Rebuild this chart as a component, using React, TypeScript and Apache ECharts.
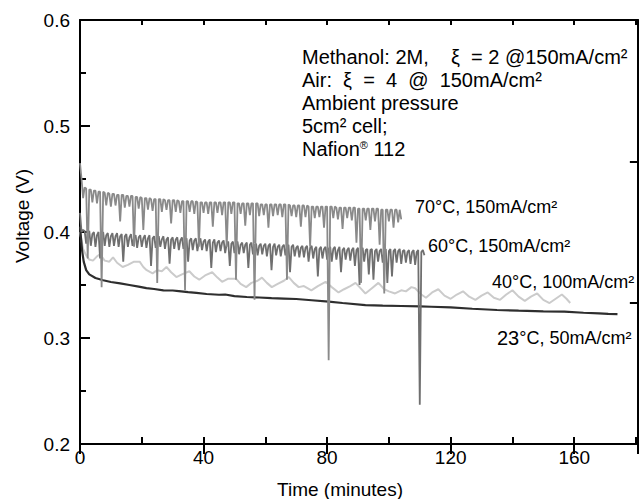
import React, { useEffect, useRef } from "react";
import * as echarts from "echarts";

// ---- Data ----
const X_LABELS = [0, 40, 80, 120, 160];

// 70°C, 150 mA/cm² : voltage sampled every 0.5 min from t = 0
const STEP_70 = 0.5;
const V70 = [
  0.465, 0.450, 0.432, 0.442, 0.441, 0.375, 0.440, 0.440, 0.428, 0.439, 0.439, 0.427, 0.438, 0.438, 0.348, 0.438, 0.437, 0.425, 0.437, 0.436,
  0.424, 0.436, 0.436, 0.425, 0.435, 0.435, 0.410, 0.435, 0.435, 0.423, 0.434, 0.434, 0.424, 0.434, 0.434, 0.386, 0.433, 0.433, 0.422, 0.433,
  0.432, 0.402, 0.432, 0.432, 0.421, 0.432, 0.431, 0.420, 0.431, 0.431, 0.352, 0.431, 0.431, 0.419, 0.431, 0.430, 0.421, 0.430, 0.430, 0.408,
  0.430, 0.430, 0.419, 0.430, 0.429, 0.418, 0.429, 0.429, 0.345, 0.429, 0.429, 0.419, 0.429, 0.429, 0.417, 0.429, 0.428, 0.386, 0.428, 0.428,
  0.418, 0.428, 0.428, 0.417, 0.428, 0.428, 0.405, 0.428, 0.428, 0.418, 0.428, 0.428, 0.416, 0.428, 0.428, 0.386, 0.428, 0.428, 0.417, 0.428,
  0.428, 0.355, 0.427, 0.427, 0.417, 0.427, 0.427, 0.406, 0.427, 0.427, 0.416, 0.427, 0.427, 0.336, 0.427, 0.427, 0.415, 0.426, 0.426, 0.416,
  0.426, 0.426, 0.404, 0.426, 0.426, 0.415, 0.426, 0.426, 0.416, 0.426, 0.426, 0.414, 0.426, 0.426, 0.355, 0.426, 0.425, 0.415, 0.425, 0.425,
  0.414, 0.425, 0.425, 0.405, 0.425, 0.425, 0.414, 0.425, 0.424, 0.386, 0.424, 0.424, 0.413, 0.424, 0.424, 0.414, 0.424, 0.424, 0.404, 0.424,
  0.424, 0.279, 0.424, 0.424, 0.413, 0.424, 0.423, 0.412, 0.423, 0.423, 0.403, 0.423, 0.423, 0.413, 0.423, 0.423, 0.411, 0.423, 0.423, 0.390,
  0.422, 0.422, 0.352, 0.422, 0.422, 0.411, 0.422, 0.422, 0.402, 0.422, 0.422, 0.410, 0.422, 0.422, 0.388, 0.421, 0.421, 0.342, 0.421, 0.421,
  0.410, 0.421, 0.421, 0.404, 0.421, 0.421, 0.409, 0.421, 0.412,
];

// 60°C, 150 mA/cm² : voltage sampled every 0.5 min from t = 0
const STEP_60 = 0.5;
const V60 = [
  0.418, 0.400, 0.402, 0.401, 0.389, 0.398, 0.401, 0.387, 0.398, 0.400, 0.386, 0.397, 0.400, 0.375, 0.398, 0.400, 0.387, 0.397, 0.399, 0.386,
  0.396, 0.399, 0.387, 0.396, 0.399, 0.386, 0.396, 0.398, 0.372, 0.396, 0.398, 0.386, 0.395, 0.398, 0.387, 0.395, 0.397, 0.385, 0.395, 0.397,
  0.386, 0.394, 0.397, 0.385, 0.394, 0.397, 0.368, 0.394, 0.396, 0.385, 0.394, 0.396, 0.386, 0.393, 0.396, 0.384, 0.393, 0.395, 0.370, 0.393,
  0.395, 0.384, 0.393, 0.395, 0.383, 0.392, 0.395, 0.384, 0.392, 0.394, 0.372, 0.392, 0.394, 0.383, 0.392, 0.394, 0.382, 0.391, 0.394, 0.383,
  0.391, 0.393, 0.382, 0.391, 0.393, 0.366, 0.390, 0.393, 0.381, 0.390, 0.392, 0.382, 0.390, 0.392, 0.380, 0.389, 0.391, 0.368, 0.389, 0.391,
  0.380, 0.389, 0.391, 0.379, 0.388, 0.390, 0.380, 0.388, 0.390, 0.366, 0.388, 0.390, 0.379, 0.387, 0.389, 0.378, 0.387, 0.389, 0.379, 0.387,
  0.389, 0.377, 0.387, 0.389, 0.364, 0.386, 0.389, 0.378, 0.386, 0.388, 0.377, 0.386, 0.388, 0.378, 0.386, 0.388, 0.362, 0.386, 0.388, 0.377,
  0.385, 0.387, 0.376, 0.385, 0.387, 0.376, 0.385, 0.387, 0.372, 0.385, 0.387, 0.375, 0.384, 0.386, 0.358, 0.384, 0.386, 0.375, 0.384, 0.386,
  0.374, 0.384, 0.386, 0.372, 0.384, 0.386, 0.374, 0.383, 0.386, 0.362, 0.383, 0.385, 0.374, 0.383, 0.385, 0.373, 0.383, 0.385, 0.368, 0.383,
  0.385, 0.350, 0.383, 0.385, 0.372, 0.383, 0.384, 0.360, 0.383, 0.384, 0.355, 0.382, 0.384, 0.372, 0.382, 0.384, 0.371, 0.382, 0.384, 0.352,
  0.382, 0.384, 0.358, 0.382, 0.384, 0.371, 0.382, 0.384, 0.370, 0.382, 0.383, 0.371, 0.381, 0.383, 0.370, 0.381, 0.383, 0.369, 0.381, 0.383,
  0.237, 0.381, 0.383, 0.378,
];

// 40°C, 100 mA/cm² : [time (min), voltage]
const S40 = [
  [0, 0.400], [0.5, 0.392], [1, 0.384], [2, 0.378], [3, 0.374], [4.2, 0.373], [5.5, 0.377], [6.5, 0.379], [8, 0.373], [9.5, 0.372],
  [10.7, 0.376], [12, 0.371], [13.8, 0.367], [15.5, 0.369], [17.5, 0.372], [19.3, 0.372], [20.5, 0.367], [21.6, 0.364], [23.5, 0.361],
  [25, 0.364], [26.5, 0.363], [28, 0.367], [29.5, 0.362], [31.2, 0.3575], [33, 0.360], [35.4, 0.363], [37, 0.358], [38.6, 0.355],
  [40.5, 0.359], [42.8, 0.362], [44.5, 0.357], [46, 0.353], [48, 0.356], [50.5, 0.356], [52, 0.351], [53.8, 0.348], [55.5, 0.352],
  [57.5, 0.354], [58.9, 0.357], [60.5, 0.352], [62.1, 0.348], [64, 0.351], [66, 0.354], [67.6, 0.3575], [69.2, 0.352], [70.8, 0.348],
  [72.5, 0.349], [74.9, 0.345], [77, 0.349], [79.5, 0.353], [81.5, 0.348], [83.7, 0.343], [85.5, 0.346], [87.5, 0.349], [89.2, 0.352],
  [90.8, 0.347], [92.4, 0.342], [94.5, 0.347], [96.6, 0.352], [98.5, 0.346], [100, 0.344], [102, 0.342], [104, 0.345], [105.5, 0.344],
  [107.3, 0.348], [108.5, 0.347], [110.5, 0.341], [112, 0.338], [114, 0.343], [116, 0.346], [118, 0.340], [120, 0.337], [122, 0.341],
  [124, 0.344], [126, 0.339], [128, 0.336], [130, 0.340], [132, 0.343], [134, 0.338], [136, 0.336], [138, 0.341], [140, 0.345],
  [142, 0.339], [144, 0.335], [146, 0.339], [148, 0.342], [150, 0.336], [152, 0.333], [154, 0.337], [156, 0.341], [157.5, 0.337],
  [158.7, 0.333],
];

// 23°C, 50 mA/cm² : [time (min), voltage]
const S23 = [
  [0, 0.405], [0.3, 0.395], [0.7, 0.382], [1.2, 0.372], [2, 0.364], [3, 0.360], [5, 0.3566], [7.5, 0.3545], [10, 0.3528],
  [13, 0.3515], [16, 0.350], [19, 0.3485], [21.5, 0.347], [24, 0.3462], [27, 0.345], [30, 0.3448], [32, 0.3443], [35, 0.3432],
  [37.7, 0.3425], [41, 0.3415], [45, 0.3408], [47, 0.3410], [50, 0.3395], [54, 0.3387], [58, 0.3382], [62, 0.3376], [66, 0.3372],
  [70, 0.3368], [75, 0.3356], [80.5, 0.3343], [85, 0.3330], [92.4, 0.3311], [98, 0.3306], [104, 0.3302], [110, 0.3298],
  [113.7, 0.3295], [120, 0.3288], [127, 0.3276], [135, 0.3264], [142, 0.3258], [150, 0.3252], [156.8, 0.3248], [163, 0.3238],
  [168, 0.3233], [171, 0.3228], [174, 0.3226],
];

const SERIES_NAMES = ["70°C, 150mA/cm²", "60°C, 150mA/cm²", "40°C, 100mA/cm²", "23°C, 50mA/cm²"];
const NOTE_LINES = [
  "Methanol: 2M,    ξ  = 2 @150mA/cm²",
  "Air:  ξ  =  4  @  150mA/cm²",
  "Ambient pressure",
  "5cm² cell;",
  "{a|Nafion}{sup|®}{a| 112}",
];

const FONT = "'Liberation Sans', Arial, Helvetica, sans-serif";

export default function App() {
  const ref = useRef<HTMLDivElement>(null);

  useEffect(() => {
    if (!ref.current) return;
    const chart = echarts.init(ref.current, null, { renderer: "svg" });
    const black = "#000";
    const d70 = V70.map((v, i) => [i * STEP_70, v]);
    const d60 = V60.map((v, i) => [i * STEP_60, v]);

    const txt = (size: number) => ({ fill: "#000", fontSize: size, fontFamily: FONT });
    const XMAX = 180.6;

    const option: any = {
      animation: false,
      backgroundColor: "#fff",
      grid: { left: 80, top: 20, width: 562, height: 424, containLabel: false },
      xAxis: [
        {
          type: "value", position: "bottom", min: 0, max: XMAX, interval: 20,
          axisLine: { show: true, onZero: false, lineStyle: { color: black, width: 2 } },
          axisTick: { show: true, inside: true, length: 7, lineStyle: { color: black, width: 2 } },
          axisLabel: {
            formatter: (v: number) => (X_LABELS.includes(v) ? String(v) : ""),
            color: black, fontSize: 19, fontFamily: FONT, margin: 4, showMaxLabel: false,
          },
          splitLine: { show: false },
        },
        {
          type: "value", position: "top", min: 0, max: XMAX, interval: 20,
          axisLine: { show: true, onZero: false, lineStyle: { color: black, width: 2 } },
          axisTick: { show: true, inside: true, length: 5, lineStyle: { color: black, width: 2 } },
          axisLabel: { show: false }, splitLine: { show: false },
        },
        {
          type: "value", position: "top", min: 0, max: XMAX, interval: 40,
          axisLine: { show: false },
          axisTick: { show: true, inside: true, length: 10, lineStyle: { color: black, width: 2 } },
          axisLabel: { show: false }, splitLine: { show: false },
        },
      ],
      yAxis: [
        {
          type: "value", position: "left", min: 0.2, max: 0.6, interval: 0.1,
          axisLine: { show: true, onZero: false, lineStyle: { color: black, width: 2 } },
          axisTick: { show: true, inside: true, length: 10, lineStyle: { color: black, width: 2 } },
          minorTick: { show: true, splitNumber: 2, length: 6, lineStyle: { color: black, width: 2 } },
          axisLabel: { formatter: (v: number) => v.toFixed(1), color: black, fontSize: 19, fontFamily: FONT, margin: 10 },
          splitLine: { show: false }, minorSplitLine: { show: false },
        },
        {
          type: "value", position: "right", min: 0, max: 3, interval: 1,
          axisLine: { show: true, onZero: false, lineStyle: { color: black, width: 2 } },
          axisTick: { show: true, inside: true, length: 8, lineStyle: { color: black, width: 2 } },
          axisLabel: { show: false }, splitLine: { show: false },
        },
      ],
      series: [
        { name: SERIES_NAMES[2], type: "line", data: S40, showSymbol: false, symbol: "none",
          lineStyle: { color: "#cbcbcb", width: 2 }, z: 2 },
        { name: SERIES_NAMES[3], type: "line", data: S23, showSymbol: false, symbol: "none",
          lineStyle: { color: "#2e2e2e", width: 2.2 }, z: 3 },
        { name: SERIES_NAMES[1], type: "line", data: d60, showSymbol: false, symbol: "none",
          lineStyle: { color: "#6f6f6f", width: 1.8 }, z: 4 },
        { name: SERIES_NAMES[0], type: "line", data: d70, showSymbol: false, symbol: "none",
          lineStyle: { color: "#8a8a8a", width: 1.8 }, z: 5 },
      ],
      graphic: [
        { type: "text", x: 22, y: 216, rotation: Math.PI / 2,
          style: { text: "Voltage (V)", ...txt(19), textAlign: "center", textVerticalAlign: "middle" } },
        { type: "text", x: 340, y: 489,
          style: { text: "Time (minutes)", ...txt(19), textAlign: "center", textVerticalAlign: "middle" } },
        ...NOTE_LINES.map((t, i) => ({
          type: "text", x: 302, y: 57 + i * 23,
          style: {
            text: t, ...txt(20), textAlign: "left", textVerticalAlign: "middle",
            rich: {
              a: { fontSize: 20, fontFamily: FONT, fill: "#000" },
              sup: { fontSize: 11, fontFamily: FONT, fill: "#000", verticalAlign: "top" },
            },
          },
        })),
        { type: "text", x: 415, y: 207,
          style: { text: SERIES_NAMES[0], ...txt(18), textAlign: "left", textVerticalAlign: "middle" } },
        { type: "text", x: 428, y: 246,
          style: { text: SERIES_NAMES[1], ...txt(18), textAlign: "left", textVerticalAlign: "middle" } },
        { type: "text", x: 492, y: 282,
          style: { text: SERIES_NAMES[2], ...txt(18), textAlign: "left", textVerticalAlign: "middle" } },
        { type: "text", x: 497, y: 338,
          style: {
            text: "{big|23}{s|°C, 50mA/cm²}", ...txt(18), textAlign: "left", textVerticalAlign: "middle",
            rich: {
              big: { fontSize: 20, fontFamily: FONT, fill: "#000" },
              s: { fontSize: 18, fontFamily: FONT, fill: "#000" },
            },
          } },
      ],
    };
    chart.setOption(option);
    return () => chart.dispose();
  }, []);

  return (
    <div
      ref={ref}
      style={{ position: "absolute", left: 0, top: 0, width: 639, height: 499, background: "#fff" }}
    />
  );
}
